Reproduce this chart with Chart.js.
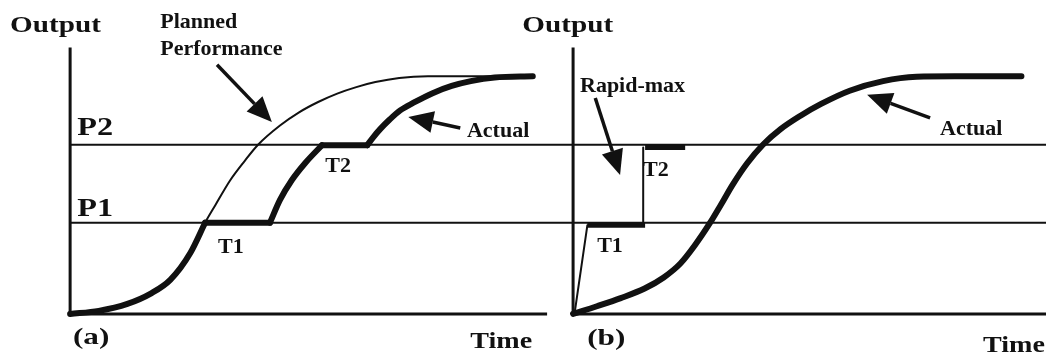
<!DOCTYPE html>
<html>
<head>
<meta charset="utf-8">
<script src="https://cdn.jsdelivr.net/npm/chart.js@4"></script>
<style>
  html, body { margin: 0; padding: 0; background: #fff; }
  #wrap { width: 1046px; height: 361px; }
</style>
</head>
<body>
<div id="wrap"><canvas id="perf-chart"></canvas></div>
<script>
// levels on the Output axis (plateau = 99)
const P1 = 38;
const P2 = 70.5;
const OFFSET_B = 105.45;   // time origin of panel (b) on the shared x scale

// panel (a): planned performance
const plannedTime = [0, 6, 12, 17, 21, 25.2, 28.3, 30.5, 33.5, 36.5, 39.4, 44, 48, 52, 56, 60, 64, 69, 75, 89];
const plannedOut  = [0, 1.3, 4.2, 8.6, 14.2, 25.4, 38, 45.5, 55.5, 63.5, 70.5, 78.5, 84, 88.3, 91.8, 94.5, 96.6, 98.3, 99, 99];

// panel (a): actual
const actualATime = [0, 6, 12, 17, 21, 25.2, 28.3, 41.9, 44, 46.5, 49.3, 52.8, 62.3, 63.5, 65, 67, 69.2, 72, 76, 80, 84, 89, 97];
const actualAOut  = [0, 1.3, 4.2, 8.6, 14.2, 25.4, 38, 38, 47.5, 55.8, 62.9, 70.3, 70.3, 73.5, 77, 81, 84.8, 88, 92, 95, 97, 98.5, 99];
// where the actual curve switches between rising and holding (indices into the arrays above)
const actualABreaks = [0, 6, 7, 11, 12, 22];

// panel (b): actual
const actualBTime = [0, 5, 10, 15, 19, 22.5, 25.5, 28.7, 31, 33.5, 36.5, 39.8, 43.5, 47.6, 52, 58, 65, 72, 80, 94];
const actualBOut  = [0, 3.2, 6.6, 10.6, 15.2, 21, 28.5, 37.9, 45.5, 54, 62.8, 70.5, 77, 82.5, 87.5, 93, 97, 98.8, 99, 99];

// panel (b): rapid-max path and its T1 / T2 holds
const rapidTime = [0.3, 3, 14.7, 14.7];
const rapidOut  = [0, 37, 37, 69.3];
const holdT1Time = [3, 15.1];
const holdT2Time = [15.1, 23.5];
const holdT1Out = 37;
const holdT2Out = 69.3;

const pts = (xs, ys, off = 0) => xs.map((x, i) => ({x: x + off, y: ys[i]}));
const flat = (xs, y, off = 0) => xs.map(x => ({x: x + off, y: y}));

const axisA = [{x: 0, y: 111}, {x: 0, y: 0}, {x: 100, y: 0}];
const axisB = axisA.map(p => ({x: p.x + OFFSET_B, y: p.y}));

function line(data, width, extra) {
  return Object.assign({
    data: data, showLine: true, borderColor: '#111', borderWidth: width,
    pointRadius: 0, fill: false, tension: 0, borderCapStyle: 'round', borderJoinStyle: 'round'
  }, extra || {});
}
const smooth = {cubicInterpolationMode: 'monotone'};

// actual (a) as separate pieces so the curve turns sharply into each hold
const actualA = pts(actualATime, actualAOut);
const actualAPieces = [];
for (let i = 0; i < actualABreaks.length - 1; i++) {
  actualAPieces.push(line(actualA.slice(actualABreaks[i], actualABreaks[i + 1] + 1), 6, smooth));
}

// text and arrows, anchored in chart units
const notes = [
  {t: 'Output', x: -12.6, y: 117.5, size: 23, sx: 1.27},
  {t: 'Planned', x: 18.9, y: 119.2, size: 22, sx: 1},
  {t: 'Performance', x: 18.9, y: 107.9, size: 22, sx: 1},
  {t: 'P2', x: 1.5, y: 74.6, size: 26, sx: 1.24},
  {t: 'P1', x: 1.5, y: 40.8, size: 26, sx: 1.24},
  {t: 'T1', x: 31.0, y: 25.4, size: 22, sx: 1},
  {t: 'T2', x: 53.5, y: 59.2, size: 22, sx: 1},
  {t: 'Actual', x: 83.2, y: 73.8, size: 22, sx: 1},
  {t: '(a)', x: 0.6, y: -12.5, size: 24, sx: 1.3},
  {t: 'Time', x: 83.9, y: -14.2, size: 24, sx: 1.17},
  {t: 'Output', x: 94.8, y: 117.5, size: 23, sx: 1.27},
  {t: 'Rapid-max', x: 106.9, y: 92.5, size: 22, sx: 1},
  {t: 'T1', x: 110.5, y: 25.8, size: 22, sx: 1},
  {t: 'T2', x: 120.1, y: 57.5, size: 22, sx: 1},
  {t: 'Actual', x: 182.4, y: 74.6, size: 22, sx: 1},
  {t: '(b)', x: 108.4, y: -12.9, size: 24, sx: 1.3},
  {t: 'Time', x: 191.4, y: -15.8, size: 24, sx: 1.17}
];
const arrows = [
  {x0: 30.8, y0: 103.8, x1: 42.3, y1: 80},
  {x0: 81.8, y0: 77.5, x1: 70.9, y1: 82.1},
  {x0: 110.1, y0: 90, x1: 115.3, y1: 57.9},
  {x0: 180.3, y0: 81.7, x1: 167.1, y1: 91.3}
];

const annotate = {
  id: 'annotate',
  afterDatasetsDraw(chart) {
    const ctx = chart.ctx, xs = chart.scales.x, ys = chart.scales.y;
    ctx.save();
    ctx.fillStyle = '#111';
    ctx.strokeStyle = '#111';
    notes.forEach(n => {
      ctx.save();
      ctx.translate(xs.getPixelForValue(n.x), ys.getPixelForValue(n.y));
      ctx.scale(n.sx, 1);
      ctx.font = 'bold ' + n.size + 'px "Liberation Serif", "Times New Roman", serif';
      ctx.textBaseline = 'alphabetic';
      ctx.fillText(n.t, 0, 0);
      ctx.restore();
    });
    arrows.forEach(a => {
      const x0 = xs.getPixelForValue(a.x0), y0 = ys.getPixelForValue(a.y0);
      const x1 = xs.getPixelForValue(a.x1), y1 = ys.getPixelForValue(a.y1);
      const ang = Math.atan2(y1 - y0, x1 - x0);
      const len = 25, half = 11;
      const bx = x1 - len * Math.cos(ang), by = y1 - len * Math.sin(ang);
      ctx.lineWidth = 3.5;
      ctx.beginPath();
      ctx.moveTo(x0, y0);
      ctx.lineTo(bx, by);
      ctx.stroke();
      ctx.beginPath();
      ctx.moveTo(x1, y1);
      ctx.lineTo(bx + half * Math.sin(ang), by - half * Math.cos(ang));
      ctx.lineTo(bx - half * Math.sin(ang), by + half * Math.cos(ang));
      ctx.closePath();
      ctx.fill();
    });
    ctx.restore();
  }
};

new Chart(document.getElementById('perf-chart'), {
  type: 'scatter',
  data: {
    datasets: [
      line(axisA, 3, {borderCapStyle: 'butt', borderJoinStyle: 'miter'}),
      line(axisB, 3, {borderCapStyle: 'butt', borderJoinStyle: 'miter'}),
      line([{x: 0, y: P2}, {x: 204.6, y: P2}], 2, {borderCapStyle: 'butt'}),
      line([{x: 0, y: P1}, {x: 204.6, y: P1}], 2, {borderCapStyle: 'butt'}),
      line(pts(plannedTime, plannedOut), 2, smooth),
      ...actualAPieces,
      line(pts(actualBTime, actualBOut, OFFSET_B), 6, smooth),
      line(pts(rapidTime, rapidOut, OFFSET_B), 2),
      line(flat(holdT1Time, holdT1Out, OFFSET_B), 5, {borderCapStyle: 'butt'}),
      line(flat(holdT2Time, holdT2Out, OFFSET_B), 5, {borderCapStyle: 'butt'})
    ]
  },
  options: {
    responsive: true,
    maintainAspectRatio: false,
    animation: false,
    layout: {padding: 0},
    plugins: {legend: {display: false}, tooltip: {enabled: false}},
    scales: {
      x: {type: 'linear', min: -14.7, max: 204.6, display: false},
      y: {type: 'linear', min: -19.6, max: 130.8, display: false}
    }
  },
  plugins: [annotate]
});
</script>
</body>
</html>
